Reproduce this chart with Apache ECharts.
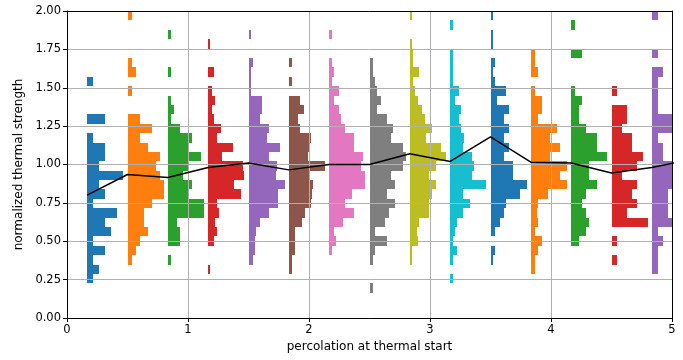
<!DOCTYPE html>
<html><head><meta charset="utf-8">
<script src="https://cdn.jsdelivr.net/npm/echarts@6/dist/echarts.min.js"></script>
<style>html,body{margin:0;padding:0;background:#fff}#chart{width:683px;height:360px}</style>
</head><body><div id="chart"></div>
<script>
// shared histogram bin edges (normalized thermal strength)
const binEdges = [0.164, 0.2252, 0.2864, 0.3476, 0.4088, 0.47, 0.5312, 0.5924, 0.6536, 0.7148,
  0.776, 0.8372, 0.8984, 0.9596, 1.0208, 1.082, 1.1432, 1.2044, 1.2656, 1.3268,
  1.388, 1.4492, 1.5104, 1.5716, 1.6328, 1.694, 1.7552, 1.8164, 1.8776, 1.9388, 2.0];
// base position of each histogram (percolation at thermal start)
const histPositions = [0.1667, 0.5, 0.8333, 1.1667, 1.5, 1.8333, 2.1667, 2.5, 2.8333, 3.1667, 3.5, 3.8333, 4.1667, 4.5, 4.8333];
const histColors = ['#1f77b4','#ff7f0e','#2ca02c','#d62728','#9467bd','#8c564b','#e377c2','#7f7f7f','#bcbd22','#17becf','#1f77b4','#ff7f0e','#2ca02c','#d62728','#9467bd'];
// counts per bin for each histogram
const h1  = [0,1,2,1,3,1,4,3,5,1, 3,2,6,2,3,3,1,0,3,0, 0,0,1,0,0,0,0,0,0,0];
const h2  = [0,0,0,1,2,3,5,4,4,6, 9,9,8,7,8,5,3,6,3,0, 0,1,0,2,1,0,0,0,0,1];
const h3  = [0,0,0,1,0,4,4,3,12,12, 7,8,5,7,11,7,8,4,1,2, 1,0,0,1,0,0,0,1,0,0];
const h4  = [0,0,2,0,0,6,9,7,11,9, 33,26,37,35,14,25,9,13,6,4, 7,4,0,6,0,0,2,0,0,0];
const h5  = [0,0,0,5,7,7,8,12,21,30, 30,37,28,29,21,32,19,21,12,14, 14,3,3,3,5,0,0,3,0,0];
const h6  = [0,0,3,3,6,6,6,13,16,23, 24,25,21,37,20,22,23,11,9,15, 11,0,3,0,3,0,0,0,0,0];
const h7  = [0,0,0,0,3,7,5,14,25,16, 23,37,37,32,34,25,25,16,12,10, 5,10,3,5,3,0,0,3,0,0];
const h8  = [3,0,0,3,5,17,5,15,19,25, 17,25,21,33,36,33,21,23,17,7, 11,7,5,3,3,0,0,0,0,0];
const h9  = [0,0,0,2,2,8,7,9,20,20, 23,27,20,27,37,32,16,23,15,12, 8,5,3,9,3,3,2,0,0,2];
const h10 = [0,3,0,3,7,3,5,7,13,20, 13,36,22,24,22,13,14,11,9,11, 5,9,3,3,3,3,0,0,3,0];
const h11 = [0,0,0,3,5,0,5,10,14,16, 30,37,23,23,14,19,14,19,14,19, 7,16,5,3,5,0,3,3,0,3];
const h12 = [0,0,4,4,7,11,4,7,6,7, 17,37,30,37,20,30,20,27,7,11, 11,4,0,7,4,4,0,0,0,0];
const h13 = [0,0,0,0,0,8,15,18,15,11, 15,26,18,18,37,26,26,15,8,8, 11,4,0,0,0,11,0,0,4,0];
const h14 = [0,0,0,6,0,6,0,37,16,26, 21,26,11,26,32,21,21,11,16,16, 0,6,0,0,0,0,0,0,0,0];
const h15 = [0,0,6,6,6,11,6,25,16,16, 16,30,36,28,11,11,6,26,24,6, 6,6,6,11,0,6,0,0,0,6];
// mean line
const lineX = [0.1667, 0.5, 0.8333, 1.1667, 1.5, 1.8333, 2.1667, 2.5, 2.8333, 3.1667, 3.5, 3.8333, 4.1667, 4.5, 4.8333, 5.1667];
const lineY = [0.80, 0.935, 0.915, 0.98, 1.01, 0.965, 1.0, 1.0, 1.07, 1.02, 1.18, 1.015, 1.01, 0.945, 0.98, 1.035];
const xTicks = [0, 1, 2, 3, 4, 5];
const yTicks = [0, 0.25, 0.5, 0.75, 1.0, 1.25, 1.5, 1.75, 2.0];

const hists = [h1,h2,h3,h4,h5,h6,h7,h8,h9,h10,h11,h12,h13,h14,h15];
const MAX_W = 0.3;
const FONT = 'DejaVu Sans';

function renderItem(params, api) {
  const x0 = api.value(0), lo = api.value(1), hi = api.value(2), w = api.value(3);
  const a = api.coord([x0, hi]);
  const b = api.coord([x0 + w, lo]);
  const xa = Math.round(a[0]), xb = Math.round(b[0]);
  const ya = Math.round(a[1]), yb = Math.round(b[1]);
  const cs = params.coordSys;
  const r = echarts.graphic.clipRectByRect(
    {x: xa, y: ya, width: Math.max(xb - xa, 1), height: yb - ya},
    {x: cs.x, y: cs.y, width: cs.width, height: cs.height});
  if (!r) return null;
  return {type: 'rect', shape: r, style: {fill: api.visual('color')}};
}

const series = hists.map((counts, i) => {
  const mx = Math.max.apply(null, counts);
  const data = [];
  counts.forEach((c, k) => {
    if (c > 0) data.push([histPositions[i], binEdges[k], binEdges[k + 1], MAX_W * c / mx]);
  });
  return {
    type: 'custom', renderItem: renderItem, data: data, z: 1,
    itemStyle: {color: histColors[i]},
    encode: {x: 0, y: 1}, animation: false
  };
});
series.push({
  type: 'line', data: lineX.map((x, i) => [x, lineY[i]]), z: 3,
  symbol: 'none', lineStyle: {color: '#000', width: 1.5}, clip: true, animation: false
});

const chart = echarts.init(document.getElementById('chart'), null, {renderer: 'canvas'});
chart.setOption({
  animation: false,
  backgroundColor: '#fff',
  grid: {left: 67, right: 11, top: 11, bottom: 42},
  xAxis: [{
    type: 'value', min: xTicks[0], max: xTicks[xTicks.length - 1], interval: 1, z: 1.5,
    name: 'percolation at thermal start', nameLocation: 'middle', nameGap: 23,
    nameTextStyle: {fontFamily: FONT, fontSize: 12, color: '#000'},
    axisLine: {show: true, onZero: false, lineStyle: {color: '#000', width: 1}},
    axisTick: {show: true, inside: false, length: 4, lineStyle: {color: '#000'}},
    axisLabel: {fontFamily: FONT, fontSize: 11.5, color: '#000', margin: 6},
    splitLine: {show: true, lineStyle: {color: '#b0b0b0', width: 1}}
  }, {
    type: 'value', min: 0, max: 5, position: 'top', z: 1.5,
    axisLine: {show: true, onZero: false, lineStyle: {color: '#000', width: 1}},
    axisTick: {show: false}, axisLabel: {show: false}, splitLine: {show: false}
  }],
  yAxis: [{
    type: 'value', min: yTicks[0], max: yTicks[yTicks.length - 1], interval: 0.25, z: 1.5,
    name: 'normalized thermal strength', nameLocation: 'middle', nameGap: 40,
    nameTextStyle: {fontFamily: FONT, fontSize: 12, color: '#000'},
    axisLine: {show: true, onZero: false, lineStyle: {color: '#000', width: 1}},
    axisTick: {show: true, inside: false, length: 4, lineStyle: {color: '#000'}},
    axisLabel: {fontFamily: FONT, fontSize: 11.5, color: '#000', margin: 6, formatter: v => v.toFixed(2)},
    splitLine: {show: true, lineStyle: {color: '#b0b0b0', width: 1}}
  }, {
    type: 'value', min: 0, max: 2, position: 'right', z: 1.5,
    axisLine: {show: true, onZero: false, lineStyle: {color: '#000', width: 1}},
    axisTick: {show: false}, axisLabel: {show: false}, splitLine: {show: false}
  }],
  series: series
});
</script></body></html>
